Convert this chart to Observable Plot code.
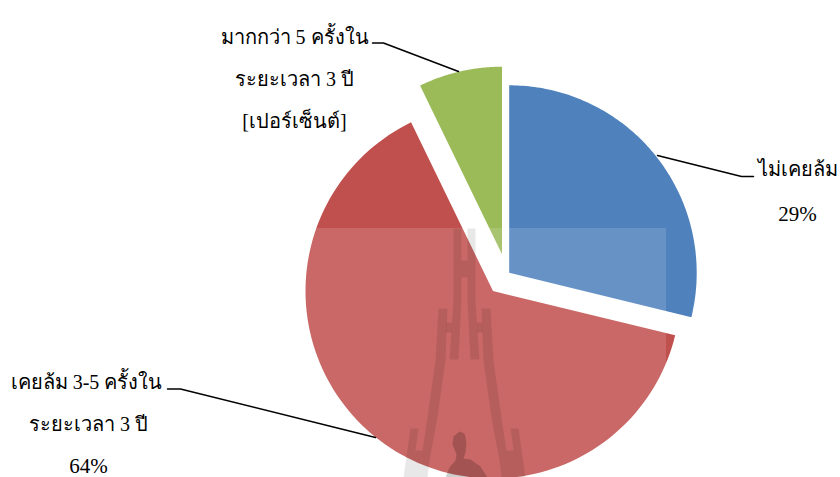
<!DOCTYPE html>
<html>
<head>
<meta charset="utf-8">
<script src="https://cdn.jsdelivr.net/npm/d3@7"></script>
<script src="https://cdn.jsdelivr.net/npm/@observablehq/plot@0.6"></script>
<style>html,body{margin:0;padding:0;background:#fff}svg{display:block}</style>
</head>
<body>
<div id="chart"></div>
<script>
const categories = ["ไม่เคยล้ม", "เคยล้ม 3-5 ครั้งใน ระยะเวลา 3 ปี", "มากกว่า 5 ครั้งใน ระยะเวลา 3 ปี"];
const values = [28.8, 64.0, 7.2];
const colors = ["#4F81BD", "#C0504D", "#9BBB59"];
const apexX = [508.7, 492.5, 501.5];
const apexY = [272.3, 290.5, 253.7];
const radius = 187.5;

const labelText = ["ไม่เคยล้ม", "29%", "เคยล้ม 3-5 ครั้งใน", "ระยะเวลา 3 ปี", "64%", "มากกว่า 5 ครั้งใน", "ระยะเวลา 3 ปี", "[เปอร์เซ็นต์]"];
const labelX = [797, 797, 86, 88, 88, 294, 294, 294];
const labelY = [169, 214, 382, 424, 466, 37, 79, 121];
const labelSize = [20, 21, 20, 20, 21, 20, 20, 20];

const leaders = [
  [[657, 155], [741, 176], [753, 176]],
  [[375, 437], [180, 388.5], [167, 388.5]],
  [[458, 71], [383, 42.5], [372, 42.5]]
];

const towerAxis = 464;
const towerLeft = [
  [[453,228],[461,228],[461,300],[458,359],[449,359],[453,300]],
  [[438,308],[447,308],[445,360],[437,417],[429,460],[427,477],[416,477],[416,470],[412,470],[412,463],[420,463],[420,470],[416,470],[416,477],[403,477],[410,428],[418,428],[415,450],[422,450],[427,417],[435,360]],
  [[446,322],[451.5,322],[451.5,332],[445.5,332]]
];
const towerBars = [[[461,260],[467,260],[467,277],[461,277]]];
const towerRight = towerLeft.map(part => part.map(([x, y]) => [2 * towerAxis - x, y]));
const towerParts = [...towerLeft, ...towerRight, ...towerBars];
const personParts = [
  [[459,431],[464,433],[466,442],[465,452],[463,458],[470,459],[480,466],[487,477],[445,477],[449,467],[455,460],[456,454],[452,444],[453,436]]
];

const slices = d3.pie().sort(null)(values);
const arcPoints = (s, i) => {
  const steps = d3.range(0, 121).map(k => s.startAngle + (s.endAngle - s.startAngle) * k / 120);
  return [
    {x: apexX[i], y: apexY[i]},
    ...steps.map(a => ({x: apexX[i] + radius * Math.sin(a), y: apexY[i] - radius * Math.cos(a)}))
  ];
};

const labels = labelText.map((t, i) => ({t, x: labelX[i], y: labelY[i], s: labelSize[i]}));
const px = p => p[0], py = p => p[1];

const svg = Plot.plot({
  width: 840,
  height: 477,
  margin: 0,
  style: {background: "#fff"},
  x: {domain: [0, 840], range: [0, 840], axis: null},
  y: {domain: [0, 477], range: [0, 477], axis: null},
  marks: [
    ...slices.map((s, i) => Plot.line(arcPoints(s, i), {x: "x", y: "y", fill: colors[i], stroke: "none", title: () => categories[i]})),
    Plot.rect([{x1: 290, x2: 666, y1: 228, y2: 477}], {x1: "x1", x2: "x2", y1: "y1", y2: "y2", fill: "#fff", fillOpacity: 0.14}),
    ...towerParts.map(p => Plot.line(p, {x: px, y: py, fill: "#000", fillOpacity: 0.09, stroke: "none"})),
    ...personParts.map(p => Plot.line(p, {x: px, y: py, fill: "#000", fillOpacity: 0.19, stroke: "none"})),
    ...leaders.map(l => Plot.line(l, {x: px, y: py, stroke: "#000", strokeWidth: 1.5})),
    Plot.text(labels, {x: "x", y: "y", text: "t", fontSize: "s", fontFamily: "'Liberation Serif','Noto Sans',serif", fill: "#000"})
  ]
});
document.getElementById("chart").appendChild(svg);
</script>
</body>
</html>
